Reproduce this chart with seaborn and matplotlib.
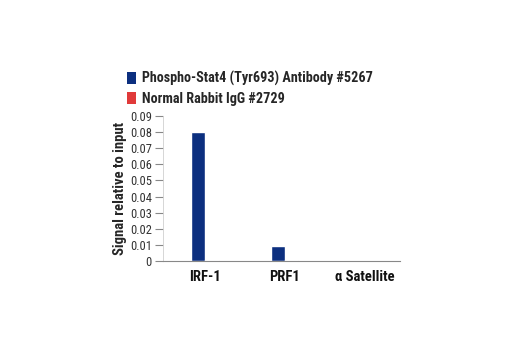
import matplotlib
matplotlib.use("Agg")
import matplotlib.pyplot as plt
import seaborn as sns
import pandas as pd
from matplotlib.patches import Patch
from matplotlib import font_manager as fm

categories = ["IRF-1", "PRF1", "\u03b1 Satellite"]
series_names = ["Phospho-Stat4 (Tyr693) Antibody #5267", "Normal Rabbit IgG #2729"]
stat4_values = [0.080, 0.0093, 0.0001]
igg_values = [0.0006, 0.0006, 0.0001]
yticks = [0, 0.01, 0.02, 0.03, 0.04, 0.05, 0.06, 0.07, 0.08, 0.09]
ytick_labels = ["0", "0.01", "0.02", "0.03", "0.04", "0.05", "0.06", "0.07", "0.08", "0.09"]
colors = ["#0c2f7f", "#e03a3a"]

df = pd.DataFrame({
    "target": categories * 2,
    "series": [series_names[0]] * 3 + [series_names[1]] * 3,
    "value": stat4_values + igg_values,
})

sns.set_style("white")

# choose a condensed font if one is installed
names = {f.name for f in fm.fontManager.ttflist}
stretch = "normal"
family = "Liberation Sans"
for cand in ["Liberation Sans Narrow", "Roboto Condensed", "DejaVu Sans Condensed"]:
    if cand in names:
        family = cand
        break
else:
    cond = [f for f in fm.fontManager.ttflist
            if f.name == "DejaVu Sans" and "Condensed" in f.fname]
    if cond:
        family = "DejaVu Sans"
        stretch = "condensed"
plt.rcParams['font.family'] = [family, 'DejaVu Sans']
plt.rcParams['font.stretch'] = stretch

fig = plt.figure(figsize=(5.2, 3.5), dpi=100)
ax = fig.add_axes([163/520, 1 - 261/350, (400-163)/520, (261-116)/350])

sns.barplot(data=df, x="target", y="value", hue="series", palette=colors,
            width=0.34, ax=ax, legend=False, saturation=1, errorbar=None)

ax.set_ylim(0, 0.09)
ax.set_xlim(-0.525, 2.44)
ax.set_yticks(yticks)
ax.set_yticklabels(ytick_labels, fontsize=9, color="#333333")
ax.set_xticks(range(len(categories)))
ax.set_xticklabels(categories, fontsize=10.5, fontweight="bold", color="#111111")
ax.set_xlabel("")
ax.set_ylabel("Signal relative to input", fontsize=10.5, fontweight="bold", labelpad=2)
for s in ["top", "right"]:
    ax.spines[s].set_visible(False)
ax.spines["left"].set_color("#d0d0d0")
ax.spines["left"].set_linewidth(0.6)
ax.spines["bottom"].set_color("#888888")
ax.spines["bottom"].set_linewidth(0.8)
ax.tick_params(axis="y", which="both", left=True, length=6, width=0.8, color="#888888", pad=2)
ax.tick_params(axis="x", bottom=False, pad=3)

handles = [Patch(facecolor=c, edgecolor="none") for c in colors]
fig.legend(handles, series_names, loc="upper left", bbox_to_anchor=(127/520, 1 - 71/350),
           frameon=False, prop={"weight": "bold", "size": 10.2},
           handlelength=0.6, handleheight=0.9, handletextpad=0.45, labelspacing=0.4,
           borderpad=0, borderaxespad=0)

fig.savefig("out.png", dpi=100, facecolor="white")
